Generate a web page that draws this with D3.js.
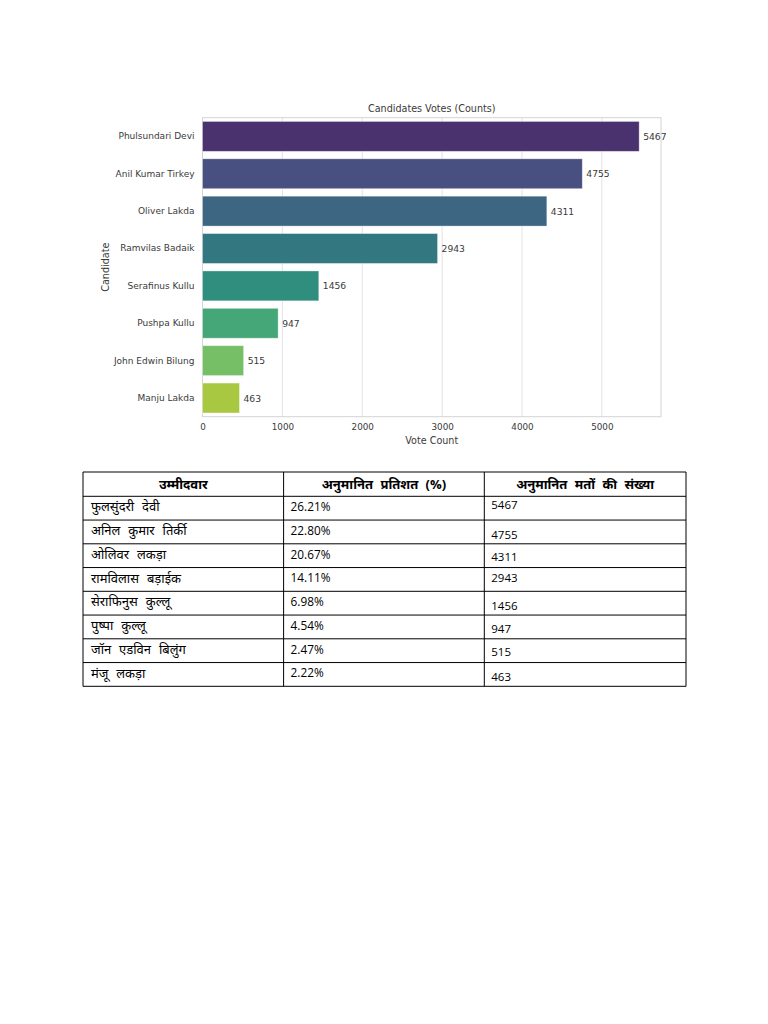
<!DOCTYPE html>
<html>
<head>
<meta charset="utf-8">
<script src="https://cdn.jsdelivr.net/npm/d3@7"></script>
<style>
  html, body { margin: 0; padding: 0; background: #ffffff; }
  svg { display: block; }
</style>
</head>
<body>
<svg id="page" width="768" height="1024"></svg>
<script>
// ---------- data ----------
const candidates = ["Phulsundari Devi", "Anil Kumar Tirkey", "Oliver Lakda", "Ramvilas Badaik",
                    "Serafinus Kullu", "Pushpa Kullu", "John Edwin Bilung", "Manju Lakda"];
const votes = [5467, 4755, 4311, 2943, 1456, 947, 515, 463];
const xTicks = [0, 1000, 2000, 3000, 4000, 5000];
const chartTitle = "Candidates Votes (Counts)";
const xLabel = "Vote Count";
const yLabel = "Candidate";

const tableHeaders = ["उम्मीदवार", "अनुमानित प्रतिशत (%)", "अनुमानित मतों की संख्या"];
const hindiNames = ["फुलसुंदरी देवी", "अनिल कुमार तिर्की", "ओलिवर लकड़ा", "रामविलास बड़ाईक",
                    "सेराफिनुस कुल्लू", "पुष्पा कुल्लू", "जॉन एडविन बिलुंग", "मंजू लकड़ा"];
const percentages = ["26.21%", "22.80%", "20.67%", "14.11%", "6.98%", "4.54%", "2.47%", "2.22%"];
const tableVotes = ["5467", "4755", "4311", "2943", "1456", "947", "515", "463"];

// ---------- layout (not data) ----------
const plot = { left: 202.5, right: 661, top: 117.7, bottom: 416.7 };
const table = { left: 83, right: 686, top: 472, headerH: 24.3, rowH: 23.75, cols: [83, 283.6, 484.3, 686] };
const col3Offsets = [7.7, 14.3, 12.3, 10.3, 14.4, 13.3, 12.6, 14.4];

const svg = d3.select("#page");
const chartFont = "'DejaVu Sans', Verdana, sans-serif";
const tableFont = "'Open Sans', 'Noto Sans', 'Noto Sans Devanagari', sans-serif";
const ink = "#3a3a3a";

// ---------- scales ----------
const x = d3.scaleLinear().domain([0, d3.max(votes) * 1.05]).range([plot.left, plot.right]);
const y = d3.scaleBand().domain(candidates).range([plot.top, plot.bottom]).paddingInner(0.2).paddingOuter(0.1);
const colors = candidates.map((d, i) => {
  const c = d3.hsl(d3.interpolateViridis((i + 1) / (candidates.length + 1)));
  c.s *= 0.75;
  return c.formatHex();
});

const g = svg.append("g");

// grid
g.append("g").selectAll("line").data(xTicks).join("line")
  .attr("x1", d => x(d)).attr("x2", d => x(d))
  .attr("y1", plot.top).attr("y2", plot.bottom)
  .attr("stroke", "#e2e2e2").attr("stroke-width", 1);

// frame
g.append("rect")
  .attr("x", plot.left).attr("y", plot.top)
  .attr("width", plot.right - plot.left).attr("height", plot.bottom - plot.top)
  .attr("fill", "none").attr("stroke", "#d4d4d4").attr("stroke-width", 1);

// bars
g.append("g").selectAll("rect").data(candidates).join("rect")
  .attr("x", x(0))
  .attr("y", d => y(d))
  .attr("width", (d, i) => x(votes[i]) - x(0))
  .attr("height", y.bandwidth())
  .attr("fill", (d, i) => colors[i])
  .attr("stroke", "rgba(255,255,255,0.45)")
  .attr("stroke-width", 0.8);

// value labels
g.append("g").selectAll("text").data(candidates).join("text")
  .attr("x", (d, i) => x(votes[i]) + 4)
  .attr("y", d => y(d) + y.bandwidth() / 2)
  .attr("dominant-baseline", "central")
  .style("font-family", chartFont).style("font-size", "9.2px")
  .attr("fill", ink)
  .text((d, i) => votes[i]);

// x axis
const xAxis = d3.axisBottom(x).tickValues(xTicks).tickSize(0).tickPadding(7).tickFormat(d3.format("d"));
const xg = g.append("g").attr("transform", `translate(0,${plot.bottom})`).call(xAxis);
xg.select(".domain").remove();
xg.selectAll("text").style("font-family", chartFont).style("font-size", "8.8px").attr("fill", ink);

// y axis
const yAxis = d3.axisLeft(y).tickSize(0).tickPadding(8);
const yg = g.append("g").attr("transform", `translate(${plot.left},0)`).call(yAxis);
yg.select(".domain").remove();
yg.selectAll("text").style("font-family", chartFont).style("font-size", "9px").attr("fill", ink);

// title & labels
g.append("text").attr("x", (plot.left + plot.right) / 2).attr("y", 112)
  .attr("text-anchor", "middle").style("font-family", chartFont).style("font-size", "9.6px").attr("fill", ink)
  .text(chartTitle);
g.append("text").attr("x", (plot.left + plot.right) / 2).attr("y", 444)
  .attr("text-anchor", "middle").style("font-family", chartFont).style("font-size", "9.6px").attr("fill", ink)
  .text(xLabel);
g.append("text").attr("transform", `translate(109,${(plot.top + plot.bottom) / 2}) rotate(-90)`)
  .attr("text-anchor", "middle").style("font-family", chartFont).style("font-size", "9.6px").attr("fill", ink)
  .text(yLabel);

// ---------- table ----------
const tg = svg.append("g");
const nRows = hindiNames.length;
const rowTop = i => table.top + table.headerH + i * table.rowH;
const tableBottom = rowTop(nRows);

// horizontal lines
const hLines = [table.top, ...d3.range(nRows + 1).map(rowTop)];
tg.selectAll("line.h").data(hLines).join("line").attr("class", "h")
  .attr("x1", table.left).attr("x2", table.right)
  .attr("y1", d => d).attr("y2", d => d)
  .attr("stroke", "#000").attr("stroke-width", 1);
// vertical lines
tg.selectAll("line.v").data(table.cols).join("line").attr("class", "v")
  .attr("x1", d => d).attr("x2", d => d)
  .attr("y1", table.top).attr("y2", tableBottom)
  .attr("stroke", "#000").attr("stroke-width", 1);

// header
tg.selectAll("text.hd").data(tableHeaders).join("text").attr("class", "hd")
  .attr("x", (d, i) => (table.cols[i] + table.cols[i + 1]) / 2)
  .attr("y", table.top + table.headerH / 2)
  .attr("dominant-baseline", "central").attr("text-anchor", "middle")
  .style("font-family", tableFont).style("font-size", "13px").style("word-spacing", "4px")
  .attr("font-weight", "bold").attr("fill", "#000")
  .text(d => d);

// body
tg.selectAll("text.c1").data(hindiNames).join("text").attr("class", "c1")
  .attr("x", table.cols[0] + 8).attr("y", (d, i) => rowTop(i) + 10)
  .attr("dominant-baseline", "central")
  .style("font-family", tableFont).style("font-size", "13px").style("word-spacing", "4.5px")
  .attr("fill", "#000")
  .text(d => d);
tg.selectAll("text.c2").data(percentages).join("text").attr("class", "c2")
  .attr("x", table.cols[1] + 7).attr("y", (d, i) => rowTop(i) + 9.8)
  .attr("dominant-baseline", "central")
  .style("font-family", tableFont).style("font-size", "11.8px").attr("fill", "#000")
  .text(d => d);
tg.selectAll("text.c3").data(tableVotes).join("text").attr("class", "c3")
  .attr("x", table.cols[2] + 7).attr("y", (d, i) => rowTop(i) + col3Offsets[i])
  .attr("dominant-baseline", "central")
  .style("font-family", tableFont).style("font-size", "11.5px").attr("fill", "#000")
  .text(d => d);
</script>
</body>
</html>
